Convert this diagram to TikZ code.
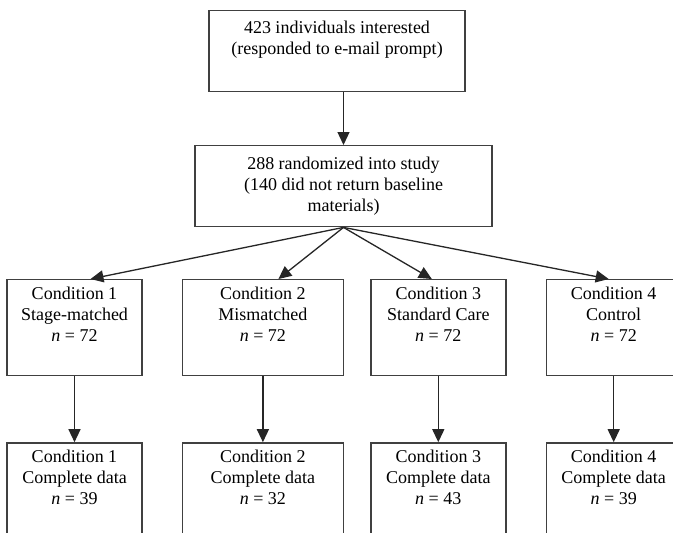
\documentclass[tikz,border=0pt]{standalone}
\usepackage{fontspec}
\setmainfont{Liberation Serif}
\usetikzlibrary{positioning,arrows.meta,calc}

\begin{document}
\begin{tikzpicture}[
    x=1pt, y=-1pt,
    font=\fontsize{18}{21}\selectfont,
    flowbox/.style={rectangle, draw=black!75, line width=1.4pt, align=center, inner xsep=4pt, inner ysep=10pt, minimum height=81pt, anchor=north},
    condbox/.style={flowbox, minimum width=135pt, inner ysep=7pt, minimum height=95pt},
    arrow/.style={-{Triangle[length=13pt,width=12pt]}, line width=1.3pt, draw=black!85}
]
\clip (0,0) rectangle (673,533);
\fill[white] (0,0) rectangle (673,533);

\node[flowbox, minimum width=256pt] (intr) at (337,10) {423 individuals interested\\(responded to e-mail prompt)\\ \strut};
\node[flowbox, minimum width=297pt] (rand) at (343.5,145) {288 randomized into study\\(140 did not return baseline\\materials)};

\node[condbox] (c1) at (74.5,279) {Condition 1\\Stage-matched\\\textit{n} = 72\\ \strut};
\node[condbox, minimum width=161pt, right=39pt of c1] (c2) {Condition 2\\Mismatched\\\textit{n} = 72\\ \strut};
\node[condbox, right=26pt of c2] (c3) {Condition 3\\Standard Care\\\textit{n} = 72\\ \strut};
\node[condbox, right=39pt of c3] (c4) {Condition 4\\Control\\\textit{n} = 72\\ \strut};

\node[condbox, below=66pt of c1] (d1) {Condition 1\\Complete data\\\textit{n} = 39\\ \strut};
\node[condbox, minimum width=161pt, below=66pt of c2] (d2) {Condition 2\\Complete data\\\textit{n} = 32\\ \strut};
\node[condbox, below=66pt of c3] (d3) {Condition 3\\Complete data\\\textit{n} = 43\\ \strut};
\node[condbox, below=66pt of c4] (d4) {Condition 4\\Complete data\\\textit{n} = 39\\ \strut};

\draw[arrow] (intr.south -| rand.north) -- (rand.north);
\draw[arrow] (rand.south) -- ($(c1.north)+(16,0)$);
\draw[arrow] (rand.south) -- ($(c2.north)+(15.5,0)$);
\draw[arrow] (rand.south) -- ($(c3.north)+(-6.5,0)$);
\draw[arrow] (rand.south) -- ($(c4.north)+(-5,0)$);
\foreach \i in {1,...,4}
    \draw[arrow] (c\i.south) -- (d\i.north);
\end{tikzpicture}
\end{document}
